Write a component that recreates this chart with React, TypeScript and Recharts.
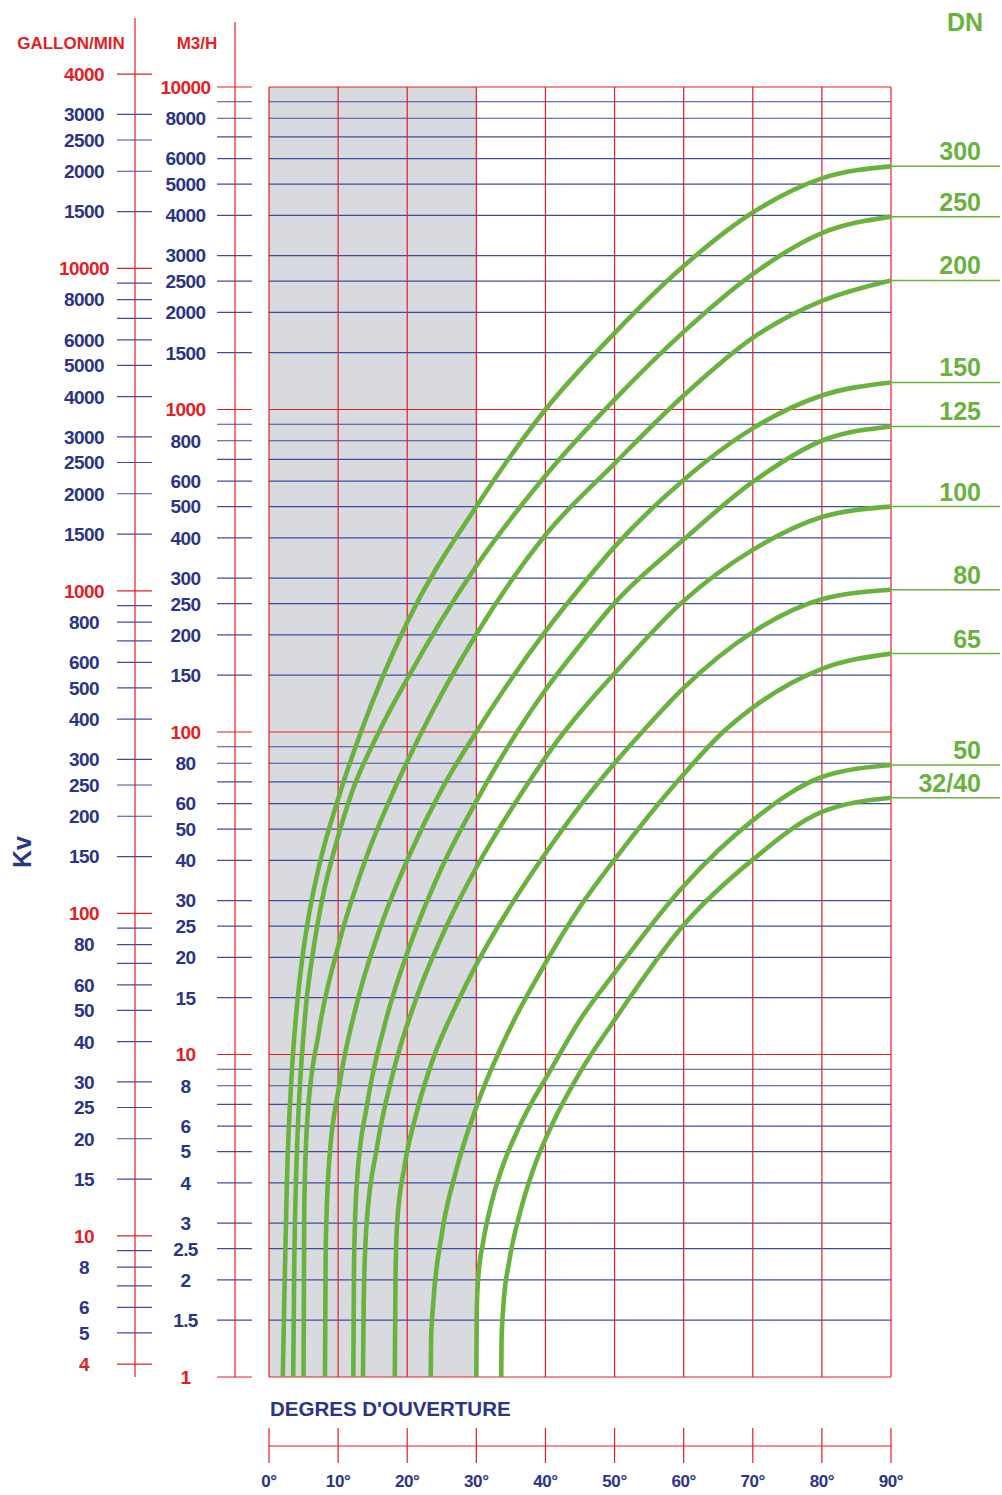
import React from 'react';
import { LineChart, Line, XAxis, YAxis, ReferenceLine, ReferenceArea, LabelList, Label } from 'recharts';

const RED = '#e31e26';
const NAVY = '#2b3487';
const GRID = '#3f4c9e';
const GREEN = '#6ab23e';
const SHADE = '#d9dae0';
const FONT = '"Liberation Sans", Arial, Helvetica, sans-serif';

// degres d'ouverture
const degTicks = [0, 10, 20, 30, 40, 50, 60, 70, 80, 90];

// Kv axis, m3/h
const kvTicks = [
  1, 1.5, 2, 2.5, 3, 4, 5, 6, 7, 8, 9,
  10, 15, 20, 25, 30, 40, 50, 60, 70, 80, 90,
  100, 150, 200, 250, 300, 400, 500, 600, 700, 800, 900,
  1000, 1500, 2000, 2500, 3000, 4000, 5000, 6000, 7000, 8000, 9000,
  10000,
];
const kvLabels = [
  '1', '1.5', '2', '2.5', '3', '4', '5', '6', '', '8', '',
  '10', '15', '20', '25', '30', '40', '50', '60', '', '80', '',
  '100', '150', '200', '250', '300', '400', '500', '600', '', '800', '',
  '1000', '1500', '2000', '2500', '3000', '4000', '5000', '6000', '', '8000', '',
  '10000',
];
const kvRed = [1, 10, 100, 1000, 10000];

// gallon/min axis, 1 m3/h = 3.65 gal/min
const GAL_PER_M3 = 3.65;
const galTicks = [
  4, 5, 6, 7, 8, 9,
  10, 15, 20, 25, 30, 40, 50, 60, 70, 80, 90,
  100, 150, 200, 250, 300, 400, 500, 600, 700, 800, 900,
  1000, 1500, 2000, 2500, 3000, 4000, 5000, 6000, 7000, 8000, 9000,
  10000, 15000, 20000, 25000, 30000, 40000,
];
const galLabels = [
  '4', '5', '6', '', '8', '',
  '10', '15', '20', '25', '30', '40', '50', '60', '', '80', '',
  '100', '150', '200', '250', '300', '400', '500', '600', '', '800', '',
  '1000', '1500', '2000', '2500', '3000', '4000', '5000', '6000', '', '8000', '',
  '10000', '1500', '2000', '2500', '3000', '4000',
];
const galRed = [4, 10, 100, 1000, 10000, 40000];

const galAsKv = galTicks.map(g => g / GAL_PER_M3);
const axisTicks = [...kvTicks, ...galAsKv].sort((a, b) => a - b);

// courbes [degres, Kv]
const dn300 = [[2.0, 1], [2.2, 1.7], [2.6, 4.1], [3.3, 8.8], [4.3, 16], [5.5, 25], [7.2, 38], [10, 62], [13.3, 100], [20, 219], [30, 500], [40, 1000], [50, 1726], [60, 2786], [70, 4083], [80, 5210], [90, 5675]];
const dn250 = [[3.5, 1], [3.65, 2.2], [3.9, 4], [4.25, 6.5], [4.7, 9.5], [5.4, 14.5], [6.4, 21], [7.8, 31], [9.7, 45], [12, 65], [15.9, 100], [20, 146], [30, 327], [40, 623], [50, 1073], [60, 1741], [70, 2630], [80, 3524], [90, 3963]];
const dn200 = [[5.0, 1], [5.1, 3.37], [5.55, 6.29], [7.2, 11.7], [10, 21.6], [13.8, 39.3], [18, 65.4], [22.1, 100], [30, 201], [40, 408], [50, 680], [60, 1105], [70, 1667], [80, 2170], [90, 2512]];
const dn150 = [[8.1, 1], [8.2, 2.46], [8.65, 4.49], [10.25, 8.19], [12.9, 14.9], [16.6, 26.5], [20.3, 41.4], [25, 66.5], [30, 100], [40, 205], [45, 280], [50, 375], [60, 605], [70, 874], [80, 1105], [90, 1213]];
const dn125 = [[12.2, 1], [12.3, 2.22], [12.7, 3.98], [14.25, 7.1], [16.8, 12.5], [20.4, 21.8], [24.9, 37.6], [30, 61], [35.9, 100], [40, 135], [45, 186], [50, 251], [60, 395], [70, 596], [80, 800], [90, 886]];
const dn100 = [[13.6, 1], [13.7, 1.68], [14.1, 2.94], [15.6, 5.12], [18, 8.86], [21.4, 15.1], [25.8, 25.3], [30, 38], [36, 62], [42.7, 100], [45, 115], [50, 152], [60, 255], [70, 367], [80, 464], [90, 500]];
const dn80 = [[18.2, 1], [18.3, 2.0], [18.55, 3.02], [19.6, 4.49], [21.4, 6.65], [23.8, 9.78], [27, 14.1], [30, 19], [35, 29], [40, 42], [45, 59], [50, 80], [54, 100], [60, 137], [70, 204], [80, 258], [90, 276]];
const dn65 = [[23.4, 1], [23.45, 1.3], [23.8, 1.73], [25, 2.77], [27.1, 4.38], [30, 6.87], [35, 12.2], [40, 19.2], [45, 28.7], [50, 40.2], [60, 74], [65.7, 100], [70, 119], [80, 157], [90, 175]];
const dn50 = [[30, 1], [30.06, 1.6], [30.25, 2.0], [31, 2.63], [32.2, 3.47], [33.9, 4.56], [36.1, 5.9], [38.8, 7.6], [40, 8.4], [45, 12.8], [50, 17.9], [60, 33.3], [70, 53.2], [80, 72.5], [90, 79]];
const dn32 = [[33.6, 1], [33.65, 1.3], [33.9, 1.65], [34.8, 2.31], [36.3, 3.22], [38.3, 4.44], [41, 6.09], [45, 8.8], [50, 12.8], [60, 25.2], [70, 40.2], [80, 56.5], [90, 62.5]];

const curves = [
  { name: '300', pts: dn300 },
  { name: '250', pts: dn250 },
  { name: '200', pts: dn200 },
  { name: '150', pts: dn150 },
  { name: '125', pts: dn125 },
  { name: '100', pts: dn100 },
  { name: '80', pts: dn80 },
  { name: '65', pts: dn65 },
  { name: '50', pts: dn50 },
  { name: '32/40', pts: dn32 },
];

const near = (a: number, b: number) => Math.abs(a - b) / b < 1e-9;

// one axis carries both tick sets: m3/h stubs on x=235, gallon stubs on x=135
const AxisTick = (p: any) => {
  const v = Number(p.payload.value);
  const y = p.y;
  const ki = kvTicks.findIndex(t => near(v, t));
  let red: boolean, label: string, cx: number, tx: number;
  if (ki >= 0) {
    red = kvRed.includes(kvTicks[ki]);
    label = kvLabels[ki];
    cx = 235;
    tx = 185.5;
  } else {
    const gi = galAsKv.findIndex(t => near(v, t));
    if (gi < 0) return null;
    red = galRed.includes(galTicks[gi]);
    label = galLabels[gi];
    cx = 135;
    tx = 84;
  }
  return (
    <g>
      <line x1={cx - 18} x2={cx + 17} y1={y} y2={y} stroke={red ? RED : GRID} strokeWidth={1.2} />
      <text x={tx} y={y} dy="0.36em" textAnchor="middle" fill={red ? RED : NAVY}
        fontSize={19} letterSpacing={-0.6} fontWeight="bold" fontFamily={FONT}>{label}</text>
    </g>
  );
};

const DegTick = (p: any) => {
  const { x, y, payload } = p;
  return (
    <g>
      <line x1={x} x2={x} y1={y + 51} y2={y + 86} stroke={RED} strokeWidth={1.2} />
      <text x={x} y={y + 104} dy="0.36em" textAnchor="middle" fill={NAVY}
        fontSize={17} letterSpacing={-0.4} fontWeight="bold" fontFamily={FONT}>{`${payload.value}°`}</text>
    </g>
  );
};

const DegTitle = (p: any) => {
  const vb = p.viewBox || {};
  return (
    <text x={vb.x + 1} y={vb.y + 39} fill={NAVY} fontSize={20.5} fontWeight="bold" fontFamily={FONT}>
      DEGRES D'OUVERTURE
    </text>
  );
};

const dnLabel = (name: string, last: number) => (p: any) => {
  if (p.index !== last) return null;
  const x = Number(p.x);
  const y = Number(p.y);
  return (
    <g>
      <line x1={x} x2={x + 109} y1={y} y2={y} stroke={GREEN} strokeWidth={1.5} />
      <text x={x + 90} y={y - 6} textAnchor="end" fill={GREEN} fontSize={25} fontWeight="bold" fontFamily={FONT}>{name}</text>
    </g>
  );
};

export default function App() {
  return (
    <div style={{ position: 'absolute', left: 0, top: 0, width: 1002, height: 1495, background: '#fff' }}>
      <LineChart width={1002} height={1495} margin={{ top: 87, right: 111, bottom: 0, left: 0 }}>
        <XAxis dataKey="deg" type="number" domain={[0, 90]} ticks={degTicks} interval={0}
          height={118} tickSize={0} tickMargin={0} tickLine={false}
          axisLine={{ stroke: RED, strokeWidth: 1.2, transform: 'translate(0,69)' }} tick={<DegTick />}>
          <Label content={<DegTitle />} />
        </XAxis>
        <YAxis yAxisId="kv" scale="log" type="number" domain={[1, 10000]} ticks={axisTicks} interval={0}
          width={269} axisLine={false} tickLine={false} tick={<AxisTick />} />

        <ReferenceArea yAxisId="kv" x1={0} x2={30} fill={SHADE} fillOpacity={1} stroke="none" />
        {kvTicks.map(v => (
          <ReferenceLine key={'h' + v} yAxisId="kv" y={v} stroke={kvRed.includes(v) ? RED : GRID} strokeWidth={1.2} />
        ))}
        {degTicks.map(d => (
          <ReferenceLine key={'v' + d} yAxisId="kv" x={d} stroke={RED} strokeWidth={1.2} />
        ))}

        {curves.map(c => (
          <Line key={c.name} yAxisId="kv" data={c.pts.map(([deg, kv]) => ({ deg, kv }))} dataKey="kv"
            type="monotone" stroke={GREEN} strokeWidth={4.6} dot={false} activeDot={false} isAnimationActive={false}>
            <LabelList dataKey="kv" content={dnLabel(c.name, c.pts.length - 1)} />
          </Line>
        ))}
      </LineChart>
      <svg width={1002} height={1495} style={{ position: 'absolute', left: 0, top: 0, pointerEvents: 'none' }}>
        <line x1={135} x2={135} y1={18} y2={1377} stroke={RED} strokeWidth={1.2} />
        <line x1={235} x2={235} y1={22} y2={1377} stroke={RED} strokeWidth={1.2} />
        <text x={71} y={49} textAnchor="middle" fill={RED} fontSize={17} fontWeight="bold" fontFamily={FONT}>GALLON/MIN</text>
        <text x={197} y={49} textAnchor="middle" fill={RED} fontSize={17} fontWeight="bold" fontFamily={FONT}>M3/H</text>
        <text x={983} y={31} textAnchor="end" fill={GREEN} fontSize={25} fontWeight="bold" fontFamily={FONT}>DN</text>
        <text x={22} y={852} dy="0.36em" textAnchor="middle" transform="rotate(-90 22 852)" fill={NAVY}
          fontSize={25} fontWeight="bold" fontFamily={FONT}>Kv</text>
      </svg>
    </div>
  );
}
